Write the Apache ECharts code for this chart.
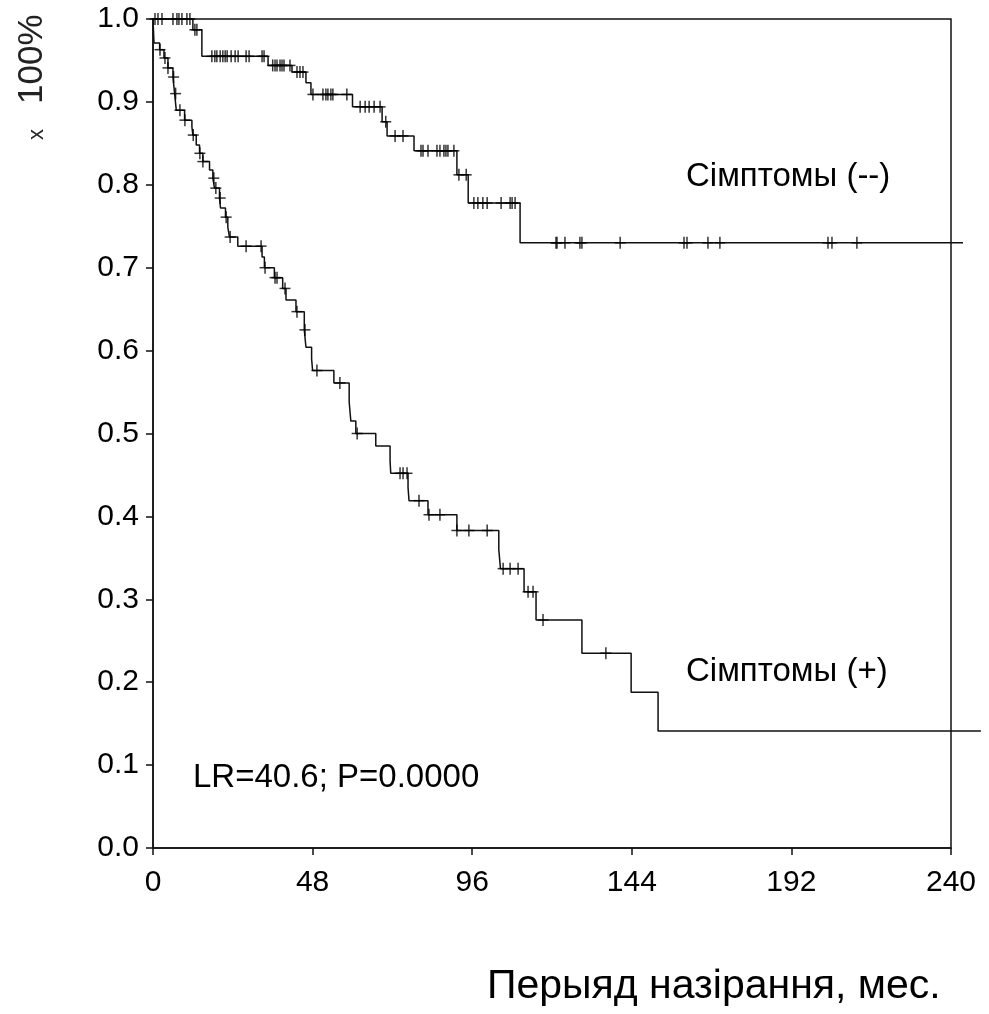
<!DOCTYPE html>
<html>
<head>
<meta charset="utf-8">
<script src="https://cdn.jsdelivr.net/npm/echarts@6/dist/echarts.min.js"></script>
<style>
html,body{margin:0;padding:0;background:#fff}
#main{width:989px;height:1014px}
</style>
</head>
<body>
<div id="main"></div>
<script>
// шкалы
var xTicks = [0, 48, 96, 144, 192, 240];
var xDataMax = 250;          // крывыя працягваюцца за 240
var yMin = 0, yMax = 1, yStep = 0.1;

// Сімптомы (--) : моманты падзей і доля
var negTimes = [0, 12, 14.7, 34.6, 41.8, 46, 47.5, 60, 68.9, 70.4, 78.5, 91.4, 94.8, 110.4, 243.6];
var negSurv  = [1.0, 0.987, 0.955, 0.944, 0.936, 0.923, 0.909, 0.894, 0.876, 0.859, 0.841, 0.812, 0.778, 0.730, 0.730];
var negCensor = [0.6, 1.5, 2.7, 6, 7.2, 7.8, 8.7, 10.2, 11.1, 12.6, 13.2,
    17.7, 18.6, 19.2, 20.2, 21, 21.7, 22.3, 23.5, 24.7, 25.6, 28, 28.9, 32.8, 33.4,
    36, 36.7, 37.3, 38.2, 38.8, 39.4, 41.2, 43.3, 44.2, 45.1,
    48.1, 51.1, 52, 52.6, 53.5, 54.1, 58.3, 62.3, 63.8, 65, 66.5, 68.3, 70, 72.8, 75.2,
    80.6, 81.2, 82.7, 85.4, 86.3, 87.5, 88.1, 88.7, 90.5, 92, 94.2,
    96.5, 97.7, 99.2, 100.5, 104.7, 107.4, 108, 108.9,
    121.2, 121.5, 123.9, 128.4, 129, 140.5, 159.7, 160.6, 166.9, 170.5, 203, 204.2, 211.7];

// Сімптомы (+)
var posTimes = [0, 0.3, 2, 3.3, 4.5, 6, 6.5, 7, 9.5, 11.7, 12, 13, 14, 15, 17, 18, 18.5, 20, 20.3, 21.8, 22.5, 23, 25.5,
    32.8, 33.5, 36.5, 39, 40, 43, 45.5, 46, 47.7, 48, 54.4, 59, 59.5, 61, 67, 71.3, 71.5, 76.7, 77, 82.7, 91.4,
    104, 104.5, 111.6, 115.2, 129, 143.8, 151.9, 249];
var posSurv  = [1.0, 0.971, 0.963, 0.953, 0.941, 0.930, 0.910, 0.890, 0.878, 0.870, 0.860, 0.848, 0.838, 0.828, 0.818, 0.808, 0.796, 0.784, 0.772, 0.761, 0.749, 0.737, 0.726,
    0.713, 0.700, 0.688, 0.675, 0.661, 0.647, 0.625, 0.604, 0.590, 0.576, 0.561, 0.538, 0.515, 0.500, 0.485, 0.467, 0.452, 0.435, 0.419, 0.402, 0.383,
    0.360, 0.337, 0.309, 0.275, 0.235, 0.188, 0.141, 0.141];
var posCensor = [2.1, 3.6, 4.5, 6.2, 6.8, 8.1, 9.6, 12.1, 14.1, 15, 18.3, 18.9, 20.2, 22, 23.2, 28, 32.5, 33.7,
    36.7, 37.3, 39.7, 43.3, 45.7, 49.3, 56.2, 61.4, 74.3, 75.2, 76.4, 80, 83, 86.3, 91.4, 95, 100.5,
    105.3, 107.4, 109.8, 112.8, 114.3, 117.3, 136.2];

function zip(a, b) {
    var out = [];
    for (var i = 0; i < a.length; i++) out.push([a[i], b[i]]);
    return out;
}
// значэнне ступеньчатай крывой у момант t
function survAt(times, surv, t) {
    var s = surv[0];
    for (var i = 0; i < times.length; i++) {
        if (times[i] <= t) s = surv[i];
    }
    return s;
}
function marks(times, surv, cens) {
    return cens.map(function (t) { return [t, survAt(times, surv, t)]; });
}

var ink = '#111';
var font = '"Liberation Sans", Arial, sans-serif';

function stepLine(name, times, surv) {
    return {
        name: name, type: 'line', step: 'end', data: zip(times, surv),
        xAxisIndex: 1, yAxisIndex: 1,
        symbol: 'none', clip: false,
        lineStyle: { color: ink, width: 1.5 }
    };
}
function censorSeries(data, size) {
    return {
        type: 'scatter', data: data, symbol: 'rect', symbolSize: size, clip: false,
        xAxisIndex: 1, yAxisIndex: 1,
        itemStyle: { color: '#000' }, z: 3
    };
}

var negMarks = marks(negTimes, negSurv, negCensor);
var posMarks = marks(posTimes, posSurv, posCensor);

var plotW = 798;
var myChart = echarts.init(document.getElementById('main'));
var option = {
    animation: false,
    backgroundColor: '#fff',
    grid: [
        { left: 153, top: 19, width: plotW, height: 829, show: true, borderColor: ink, borderWidth: 1.5 },
        { left: 153, top: 19, width: plotW * xDataMax / xTicks[xTicks.length - 1], height: 829, show: false }
    ],
    xAxis: [{
        type: 'value', min: xTicks[0], max: xTicks[xTicks.length - 1], interval: 48,
        axisLine: { onZero: false, lineStyle: { color: ink, width: 1.5 } },
        axisTick: { length: 7, lineStyle: { color: ink, width: 1.5 } },
        splitLine: { show: false },
        axisLabel: { color: '#000', fontSize: 30, fontFamily: font, margin: 20 }
    }, {
        gridIndex: 1, type: 'value', min: 0, max: xDataMax, show: false, splitLine: { show: false }
    }],
    yAxis: [{
        type: 'value', min: yMin, max: yMax, interval: yStep,
        axisLine: { show: true, lineStyle: { color: ink, width: 1.5 } },
        axisTick: { show: true, length: 7, lineStyle: { color: ink, width: 1.5 } },
        splitLine: { show: false },
        axisLabel: { color: '#000', fontSize: 30, fontFamily: font, margin: 14,
            formatter: function (v) { return v.toFixed(1); } }
    }, {
        gridIndex: 1, type: 'value', min: yMin, max: yMax, show: false, splitLine: { show: false }
    }],
    series: [
        stepLine('Сімптомы (--)', negTimes, negSurv),
        stepLine('Сімптомы (+)', posTimes, posSurv),
        censorSeries(negMarks, [1.5, 12]),
        censorSeries(negMarks, [11, 1.5]),
        censorSeries(posMarks, [1.5, 12]),
        censorSeries(posMarks, [11, 1.5])
    ],
    graphic: [
        { type: 'text', left: 686, top: 160, style: { text: 'Сімптомы (--)', font: '33px ' + font, fill: '#000' } },
        { type: 'text', left: 686, top: 655, style: { text: 'Сімптомы (+)', font: '33px ' + font, fill: '#000' } },
        { type: 'text', left: 193, top: 761, style: { text: 'LR=40.6; P=0.0000', font: '33px ' + font, fill: '#000' } },
        { type: 'text', left: 487, top: 966, style: { text: 'Перыяд назірання, мес.', font: '41px ' + font, fill: '#000' } },
        { type: 'text', x: 48, y: 140, rotation: Math.PI / 2,
          style: { text: 'x', font: '22px ' + font, fill: '#222', verticalAlign: 'bottom' } },
        { type: 'text', x: 50, y: 104, rotation: Math.PI / 2,
          style: { text: '100%', font: '35px ' + font, fill: '#222', verticalAlign: 'bottom' } }
    ]
};
myChart.setOption(option);
</script>
</body>
</html>
